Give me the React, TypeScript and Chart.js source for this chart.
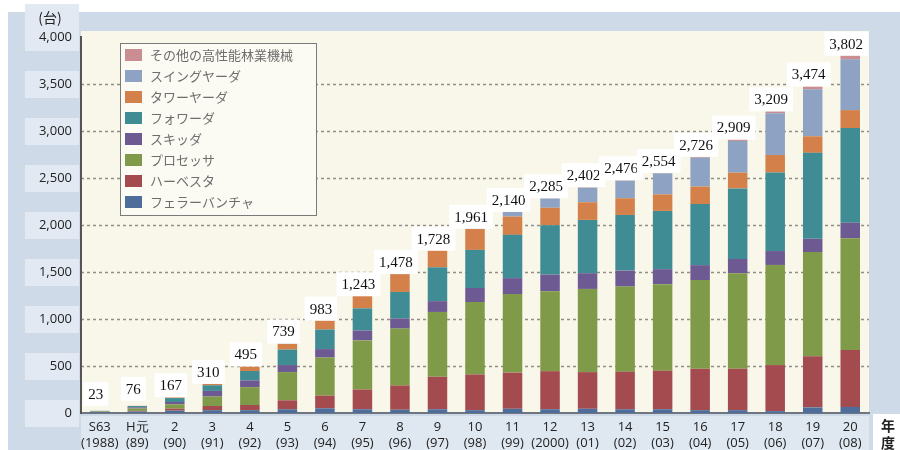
import React, { useEffect, useRef } from "react";
import { Chart, registerables } from "chart.js";

Chart.register(...registerables);

const categories: string[][] = [
  ["S63", "(1988)"], ["H元", "(89)"], ["2", "(90)"], ["3", "(91)"], ["4", "(92)"],
  ["5", "(93)"], ["6", "(94)"], ["7", "(95)"], ["8", "(96)"], ["9", "(97)"],
  ["10", "(98)"], ["11", "(99)"], ["12", "(2000)"], ["13", "(01)"], ["14", "(02)"],
  ["15", "(03)"], ["16", "(04)"], ["17", "(05)"], ["18", "(06)"], ["19", "(07)"], ["20", "(08)"],
];

const feller = [8, 15, 25, 30, 30, 40, 50, 40, 35, 40, 30, 45, 40, 45, 40, 40, 30, 30, 20, 60, 65];
const harvester = [2, 8, 22, 45, 55, 95, 135, 210, 258, 345, 380, 385, 405, 390, 400, 410, 440, 442, 490, 545, 604];
const processor = [6, 25, 45, 100, 190, 300, 405, 522, 605, 690, 770, 835, 850, 885, 905, 920, 945, 1015, 1065, 1108, 1190];
const skidder = [4, 12, 25, 60, 72, 75, 90, 106, 108, 115, 150, 170, 178, 167, 170, 160, 158, 152, 148, 140, 165];
const forwarder = [3, 14, 42, 60, 100, 165, 208, 235, 282, 360, 405, 460, 525, 567, 592, 620, 650, 750, 835, 915, 1008];
const tower = [0, 2, 8, 15, 48, 60, 95, 130, 190, 178, 222, 195, 185, 188, 178, 176, 186, 168, 187, 176, 190];
const swing = [0, 0, 0, 0, 0, 4, 0, 0, 0, 0, 4, 50, 100, 155, 186, 223, 307, 337, 444, 500, 540];
const other = [0, 0, 0, 0, 0, 0, 0, 0, 0, 0, 0, 0, 2, 5, 5, 5, 10, 15, 20, 30, 40];

const seriesNames = [
  "フェラーバンチャ", "ハーベスタ", "プロセッサ", "スキッダ",
  "フォワーダ", "タワーヤーダ", "スイングヤーダ", "その他の高性能林業機械",
];
const seriesData = [feller, harvester, processor, skidder, forwarder, tower, swing, other];
const seriesColors = ["#4f6d9a", "#a44b4f", "#7f9a48", "#6d5a92", "#3f8c94", "#d3804a", "#8ea2c3", "#c98d92"];

const yTicks = [0, 500, 1000, 1500, 2000, 2500, 3000, 3500, 4000];

const backgroundPlugin = {
  id: "bgPlugin",
  beforeDraw(chart: any) {
    const { ctx, chartArea, scales } = chart;
    ctx.save();
    ctx.fillStyle = "#ffffff";
    ctx.fillRect(0, 0, 900, 450);
    ctx.fillStyle = "#cfdae8";
    ctx.fillRect(8, 12, 892, 438);
    ctx.fillStyle = "#dfe7f1";
    ctx.fillRect(chartArea.left, chartArea.bottom + 3, chartArea.right - chartArea.left, 40);
    ctx.fillStyle = "#ffffff";
    ctx.fillRect(873, 414, 27, 36);
    ctx.fillStyle = "#f9f7e9";
    ctx.fillRect(chartArea.left, chartArea.top - 6, chartArea.right - chartArea.left, chartArea.bottom - chartArea.top + 6);
    ctx.fillStyle = "#e2e9f3";
    yTicks.forEach((v) => {
      const y = scales.y.getPixelForValue(v);
      if (v === 4000) ctx.fillRect(25, 4, 54, y + 14 - 4);
      else ctx.fillRect(25, y - 13, 54, 27);
    });
    // dashed grid lines
    ctx.strokeStyle = "#8e8e86";
    ctx.lineWidth = 1.5;
    ctx.setLineDash([3, 3]);
    yTicks.forEach((v) => {
      if (v === 0 || v === 4000) return;
      const y = Math.round(scales.y.getPixelForValue(v)) + 0.5;
      ctx.beginPath();
      ctx.moveTo(chartArea.left, y);
      ctx.lineTo(chartArea.right, y);
      ctx.stroke();
    });
    ctx.restore();
  },
  afterDatasetsDraw(chart: any) {
    const { ctx, scales } = chart;
    ctx.save();
    const lx = 120, ly = 43, lw = 196, lh = 172;
    ctx.fillStyle = "#fbfaf3";
    ctx.fillRect(lx, ly, lw, lh);
    ctx.strokeStyle = "#7a7a7a";
    ctx.lineWidth = 1;
    ctx.strokeRect(lx + 0.5, ly + 0.5, lw, lh);
    ctx.font = "13px 'Noto Sans CJK JP'";
    ctx.textBaseline = "middle";
    ctx.textAlign = "left";
    for (let i = 0; i < 8; i++) {
      const si = 7 - i;
      const y = 55 + i * 21;
      ctx.fillStyle = seriesColors[si];
      ctx.fillRect(125, y - 6, 17, 12);
      ctx.fillStyle = "#6e6e6e";
      ctx.fillText(seriesNames[si], 150, y);
    }
    ctx.font = "15px 'Liberation Serif'";
    ctx.textAlign = "center";
    categories.forEach((_, i) => {
      let total = 0;
      seriesData.forEach((s) => (total += s[i]));
      const x = scales.x.getPixelForValue(i) - 4;
      const top = scales.y.getPixelForValue(total);
      const txt = total.toLocaleString("en-US");
      const w = ctx.measureText(txt).width + 10;
      const cy = total < 100 ? top - 17 : top - 12;
      ctx.fillStyle = "#ffffff";
      ctx.fillRect(x - w / 2, cy - 12, w, 24);
      ctx.fillStyle = "#111111";
      ctx.fillText(txt, x, cy + 1);
    });
    ctx.font = "14px 'Noto Sans CJK JP'";
    ctx.fillStyle = "#222222";
    ctx.textAlign = "center";
    ctx.fillText("(台)", 50, 18);
    ctx.font = "bold 14px 'Noto Sans CJK JP'";
    ctx.fillText("年", 888, 426);
    ctx.fillText("度", 888, 443);
    ctx.restore();
  },
};

export default function App() {
  const ref = useRef<HTMLCanvasElement>(null);
  useEffect(() => {
    if (!ref.current) return;
    const chart = new Chart(ref.current, {
      type: "bar",
      data: {
        labels: categories,
        datasets: seriesData.map((d, i) => ({
          label: seriesNames[i],
          data: d,
          backgroundColor: seriesColors[i],
          borderWidth: 0,
          categoryPercentage: 1,
          barPercentage: 0.52,
        })),
      },
      options: {
        animation: false,
        responsive: false,
        maintainAspectRatio: false,
        layout: { padding: { top: 37, right: 31, left: 0, bottom: 0 } },
        plugins: { legend: { display: false }, tooltip: { enabled: false } },
        scales: {
          x: {
            stacked: true,
            afterFit: (s: any) => { s.height = 37; },
            grid: { display: false, drawTicks: false },
            border: { display: true, color: "#6f7680", width: 2 },
            ticks: {
              padding: 6,
              color: "#222",
              font: { family: "'Open Sans'", size: 13, lineHeight: 1.25 },
              maxRotation: 0,
              autoSkip: false,
            },
          },
          y: {
            stacked: true,
            min: 0,
            max: 4000,
            afterFit: (s: any) => { s.width = 81; },
            afterBuildTicks: (s: any) => { s.ticks = yTicks.map((v) => ({ value: v })); },
            grid: { display: false, drawTicks: false },
            border: { display: true, color: "#555", width: 2 },
            ticks: {
              padding: 9,
              color: "#222",
              font: { family: "'Open Sans'", size: 13 },
              callback: (v: any) => Number(v).toLocaleString("en-US"),
            },
          },
        },
      },
      plugins: [backgroundPlugin],
    });
    return () => chart.destroy();
  }, []);
  return (
    <div style={{ position: "fixed", left: 0, top: 0, width: 900, height: 450 }}>
      <canvas ref={ref} width={900} height={450} style={{ width: 900, height: 450, display: "block" }} />
    </div>
  );
}
